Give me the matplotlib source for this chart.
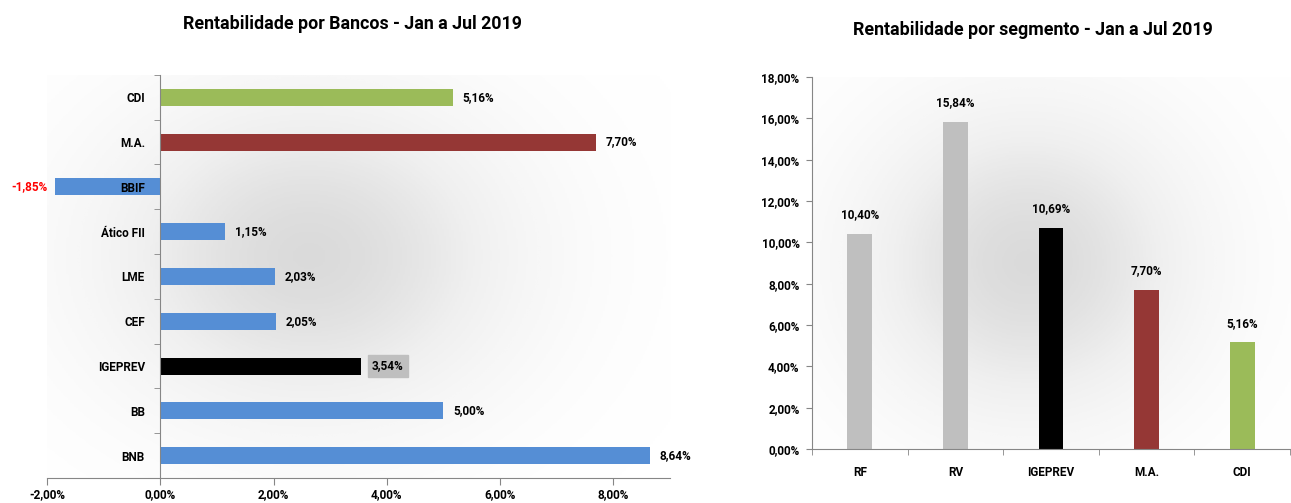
import matplotlib.pyplot as plt
import numpy as np

# dados - rentabilidade por bancos (de baixo para cima)
bancos = ["BNB", "BB", "IGEPREV", "CEF", "LME", "Ático FII", "BBIF", "M.A.", "CDI"]
rent_bancos = [8.64, 5.00, 3.54, 2.05, 2.03, 1.15, -1.85, 7.70, 5.16]
cores_bancos = ["#558ED5", "#558ED5", "#000000", "#558ED5", "#558ED5", "#558ED5",
                "#558ED5", "#953735", "#9BBB59"]

# dados - rentabilidade por segmento
segmentos = ["RF", "RV", "IGEPREV", "M.A.", "CDI"]
rent_segm = [10.40, 15.84, 10.69, 7.70, 5.16]
cores_segm = ["#BFBFBF", "#BFBFBF", "#000000", "#953735", "#9BBB59"]

xticks_bancos = [-2, 0, 2, 4, 6, 8]
yticks_segm = [0, 2, 4, 6, 8, 10, 12, 14, 16, 18]

plt.rcParams['font.family'] = ['Roboto', 'DejaVu Sans']
plt.rcParams['font.weight'] = 'bold'

AXIS_COLOR = "#868686"
FS = 8.5


def pct(v):
    return "{:.2f}%".format(v).replace(".", ",")


def sombra(ax, cx, cy, sx, sy, alpha=0.24):
    # fundo com sombra radial (efeito do Excel)
    gx, gy = np.meshgrid(np.linspace(0, 1, 300), np.linspace(0, 1, 300))
    g = np.exp(-(((gx - cx) / sx) ** 2 + ((gy - cy) / sy) ** 2))
    ax.imshow(g, extent=[0, 1, 0, 1], transform=ax.transAxes, cmap="Greys",
              vmin=0, vmax=1 / alpha, aspect="auto", zorder=0, origin="lower",
              interpolation="bilinear")


fig = plt.figure(figsize=(12.91, 5.03), dpi=100)

# grafico 1 - bancos (barras horizontais)
ax1 = fig.add_axes([0.0364, 0.0497, 0.4826, 0.8014])
sombra(ax1, 0.42, 0.55, 0.33, 0.4)
y = np.arange(len(bancos))
ax1.barh(y, rent_bancos, height=0.38, color=cores_bancos, zorder=1)
ax1.set_axisbelow(False)
ax1.set_xlim(-2, 9.0)
ax1.set_ylim(-0.5, len(bancos) - 0.5)
ax1.spines["left"].set_position(("data", 0))
ax1.spines["top"].set_visible(False)
ax1.spines["right"].set_visible(False)
for s in ["left", "bottom"]:
    ax1.spines[s].set_color(AXIS_COLOR)
ax1.set_xticks(xticks_bancos)
ax1.set_xticklabels([pct(v) for v in xticks_bancos], fontsize=FS)
ax1.set_yticks(y)
ax1.set_yticklabels(bancos, fontsize=FS)
ax1.tick_params(axis="y", length=0, pad=11)
ax1.set_yticks(np.arange(-0.5, len(bancos), 1), minor=True)
ax1.tick_params(axis="y", which="minor", length=4, color=AXIS_COLOR, direction="out")
ax1.tick_params(axis="x", length=5, color=AXIS_COLOR, direction="out", pad=2)
for yi, v in zip(y, rent_bancos):
    if v < 0:
        ax1.annotate(pct(v), (v, yi), xytext=(-6, 0), textcoords="offset points",
                     ha="right", va="center", fontsize=FS, color="#FF0000")
    elif bancos[yi] == "IGEPREV":
        ax1.annotate(pct(v), (v, yi), xytext=(8, 0), textcoords="offset points",
                     ha="left", va="center", fontsize=FS,
                     bbox=dict(boxstyle="square,pad=0.35", fc="#BFBFBF", ec="#BFBFBF"))
    else:
        ax1.annotate(pct(v), (v, yi), xytext=(7, 0), textcoords="offset points",
                     ha="left", va="center", fontsize=FS)
fig.text(0.273, 0.953, "Rentabilidade por Bancos - Jan a Jul 2019", ha="center",
         va="center", fontsize=12.8, fontweight="bold")

# grafico 2 - segmentos (colunas)
ax2 = fig.add_axes([0.629, 0.1074, 0.3703, 0.7396])
sombra(ax2, 0.45, 0.5, 0.35, 0.42)
x = np.arange(len(segmentos))
ax2.bar(x, rent_segm, width=0.26, color=cores_segm, zorder=2)
ax2.set_xlim(-0.5, len(segmentos) - 0.5)
ax2.set_ylim(0, 18)
ax2.spines["top"].set_visible(False)
ax2.spines["right"].set_visible(False)
for s in ["left", "bottom"]:
    ax2.spines[s].set_color(AXIS_COLOR)
ax2.set_yticks(yticks_segm)
ax2.set_yticklabels([pct(v) for v in yticks_segm], fontsize=FS)
ax2.tick_params(axis="y", length=4, color=AXIS_COLOR, direction="out", pad=5)
ax2.set_xticks(x)
ax2.set_xticklabels(segmentos, fontsize=FS)
ax2.tick_params(axis="x", length=0, pad=12)
ax2.set_xticks(np.arange(-0.5, len(segmentos), 1), minor=True)
ax2.tick_params(axis="x", which="minor", length=4, color=AXIS_COLOR, direction="out")
for xi, v in zip(x, rent_segm):
    ax2.annotate(pct(v), (xi, v), xytext=(0, 9), textcoords="offset points",
                 ha="center", va="bottom", fontsize=FS)
fig.text(0.8, 0.94, "Rentabilidade por segmento - Jan a Jul 2019", ha="center",
         va="center", fontsize=12.8, fontweight="bold")

fig.savefig("out.png", dpi=100)
